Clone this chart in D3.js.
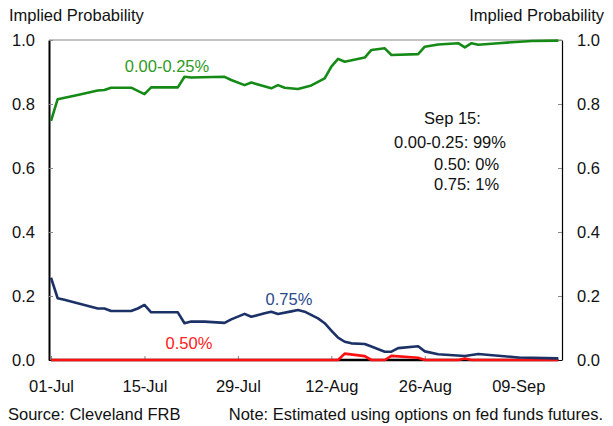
<!DOCTYPE html>
<html>
<head>
<meta charset="utf-8">
<script src="https://cdn.jsdelivr.net/npm/d3@7"></script>
<style>
  html, body { margin: 0; padding: 0; background: #fff; }
  svg { display: block; font-family: 'Liberation Sans', Arial, sans-serif; }
</style>
</head>
<body>
<div id="chart"></div>
<script>
// values (vertices of each line)
const dates025 = ['2014-07-01','2014-07-02','2014-07-05','2014-07-08','2014-07-09','2014-07-10','2014-07-13','2014-07-15','2014-07-16','2014-07-20','2014-07-21','2014-07-22','2014-07-27','2014-07-28','2014-07-30','2014-07-31','2014-08-03','2014-08-04','2014-08-05','2014-08-07','2014-08-09','2014-08-11','2014-08-12','2014-08-13','2014-08-14','2014-08-17','2014-08-18','2014-08-20','2014-08-21','2014-08-25','2014-08-26','2014-08-28','2014-08-31','2014-09-01','2014-09-02','2014-09-03','2014-09-06','2014-09-11','2014-09-15']
const prob025 = [0.747,0.815,0.828,0.842,0.844,0.851,0.851,0.831,0.852,0.852,0.885,0.883,0.885,0.875,0.859,0.867,0.849,0.859,0.851,0.847,0.858,0.880,0.917,0.941,0.932,0.945,0.969,0.974,0.953,0.956,0.979,0.986,0.990,0.977,0.990,0.985,0.990,0.997,0.998]

const dates075 = ['2014-07-01','2014-07-02','2014-07-03','2014-07-06','2014-07-08','2014-07-09','2014-07-10','2014-07-13','2014-07-14','2014-07-15','2014-07-16','2014-07-20','2014-07-21','2014-07-22','2014-07-24','2014-07-27','2014-07-28','2014-07-30','2014-07-31','2014-08-02','2014-08-03','2014-08-04','2014-08-06','2014-08-07','2014-08-08','2014-08-10','2014-08-11','2014-08-12','2014-08-13','2014-08-14','2014-08-15','2014-08-17','2014-08-18','2014-08-20','2014-08-21','2014-08-22','2014-08-25','2014-08-26','2014-08-28','2014-09-01','2014-09-03','2014-09-06','2014-09-09','2014-09-15']
const prob075 = [0.257,0.193,0.188,0.172,0.161,0.161,0.153,0.153,0.161,0.172,0.149,0.149,0.115,0.120,0.120,0.116,0.127,0.144,0.135,0.146,0.151,0.144,0.152,0.156,0.151,0.130,0.115,0.092,0.070,0.057,0.052,0.050,0.042,0.026,0.026,0.037,0.043,0.027,0.018,0.0125,0.019,0.0135,0.008,0.005]

const dates050 = ['2014-07-01','2014-08-13','2014-08-14','2014-08-17','2014-08-18','2014-08-20','2014-08-21','2014-08-25','2014-08-26','2014-08-31','2014-09-01','2014-09-02','2014-09-15']
const prob050 = [0, 0, 0.020, 0.012, 0, 0, 0.013, 0.007, 0, 0, 0.005, 0, 0]

const dates100 = ['2014-07-01','2014-09-15']
const prob100 = [0, 0]

const yTicks = [0, 0.2, 0.4, 0.6, 0.8, 1.0]
const xTickDates = ['2014-07-01','2014-07-15','2014-07-29','2014-08-12','2014-08-26','2014-09-09']

const width = 613
const height = 426
const plotLeft = 49, plotRight = 562, plotTop = 40, plotBottom = 360
const fontSize = '16.5px'
const textColor = '#111'

const parse = d3.timeParse('%Y-%m-%d')

const svg = d3.select('#chart')
  .append('svg')
  .attr('width', width)
  .attr('height', height)
  .attr('viewBox', [0, 0, width, height])

const x = d3.scaleTime()
  .domain([parse('2014-07-01'), parse('2014-09-16')])
  .range([51, 565])

const y = d3.scaleLinear()
  .domain([0, 1])
  .range([plotBottom, plotTop])

// top frame line
svg.append('line')
  .attr('x1', plotLeft).attr('x2', plotRight)
  .attr('y1', plotTop).attr('y2', plotTop)
  .attr('stroke', '#c4c4c4')
  .attr('stroke-width', 2)

// axes
const leftAxis = svg.append('g')
  .attr('transform', `translate(${plotLeft},0)`)
  .call(d3.axisLeft(y).tickValues(yTicks).tickFormat(d3.format('.1f'))
    .tickSizeInner(-4).tickSizeOuter(0).tickPadding(14))
leftAxis.select('.domain').attr('stroke', '#000').attr('stroke-width', 2)

const rightAxis = svg.append('g')
  .attr('transform', `translate(${plotRight},0)`)
  .call(d3.axisRight(y).tickValues(yTicks).tickFormat(d3.format('.1f'))
    .tickSizeInner(-4).tickSizeOuter(0).tickPadding(15))
rightAxis.select('.domain').attr('stroke', '#000').attr('stroke-width', 1.2)

const bottomAxis = svg.append('g')
  .attr('transform', `translate(0,${plotBottom})`)
  .call(d3.axisBottom(x).tickValues(xTickDates.map(parse)).tickFormat(d3.timeFormat('%d-%b'))
    .tickSizeInner(-4).tickSizeOuter(0).tickPadding(20))
bottomAxis.select('.domain').attr('d', `M${plotLeft},0.5H${plotRight}`).attr('stroke', '#000')

svg.selectAll('.tick line').attr('stroke', '#888')
svg.selectAll('.tick text')
  .attr('fill', textColor)
  .style('font-size', fontSize)
  .style('font-family', "'Liberation Sans', Arial, sans-serif")

// lines
const line = d3.line()
  .x(d => x(d.date))
  .y(d => y(d.value))

const series = [
  { dates: dates100, values: prob100, color: '#000' },
  { dates: dates050, values: prob050, color: '#ff1010' },
  { dates: dates075, values: prob075, color: '#1c3267' },
  { dates: dates025, values: prob025, color: '#168a16' }
]

series.forEach(s => {
  const data = s.dates.map((d, i) => ({ date: parse(d), value: s.values[i] }))
  svg.append('path')
    .datum(data)
    .attr('fill', 'none')
    .attr('stroke', s.color)
    .attr('stroke-width', 2.6)
    .attr('stroke-linejoin', 'round')
    .attr('d', line)
})

// text
function label(txt, tx, ty, anchor, color) {
  svg.append('text')
    .attr('x', tx)
    .attr('y', ty)
    .attr('text-anchor', anchor)
    .attr('fill', color)
    .style('font-size', fontSize)
    .text(txt)
}

label('Implied Probability', 9, 21, 'start', textColor)
label('Implied Probability', 604, 21, 'end', textColor)

label('0.00-0.25%', 167, 72, 'middle', '#2f9a1e')
label('0.75%', 289, 305, 'middle', '#2b4a8c')
label('0.50%', 189, 349, 'middle', '#ff2020')

label('Sep 15:', 424, 124, 'start', textColor)
label('0.00-0.25: 99%', 394, 148, 'start', textColor)
label('0.50: 0%', 434, 170, 'start', textColor)
label('0.75: 1%', 434, 190, 'start', textColor)

label('Source: Cleveland FRB', 8, 420, 'start', textColor)
label('Note: Estimated using options on fed funds futures.', 603, 420, 'end', textColor)
</script>
</body>
</html>
